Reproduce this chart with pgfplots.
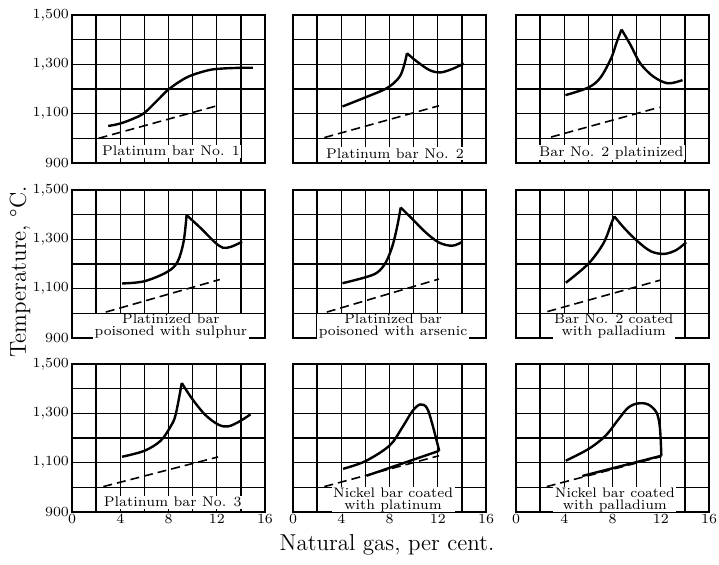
\documentclass[border=0pt]{standalone}
\usepackage{pgfplots}
\pgfplotsset{compat=1.18}
\begin{document}
\begin{tikzpicture}
\useasboundingbox (0pt,0pt) rectangle (359.5pt,-282.5pt);
\pgfplotsset{
  panel/.style={
    width=96.5pt, height=74pt, scale only axis,
    anchor=south west,
    xmin=0, xmax=16, ymin=900, ymax=1500,
    xtick={0,2,4,6,8,10,12,14,16}, ytick={900,1000,1100,1200,1300,1400,1500},
    xticklabels={}, yticklabels={},
    grid=major, major grid style={black, line width=0.72pt},
    axis line style={line width=0.95pt},
    tick style={draw=none},
    ticklabel style={font=\fontsize{7}{7}\selectfont},
    xticklabel style={yshift=2.5pt},
    yticklabel style={xshift=2pt},
    clip=false,
  },
  xlab/.style={xticklabels={0,,4,,8,,12,,16}},
  ylab/.style={yticklabels={900,,{1,100},,{1,300},,{1,500}}},
  curve/.style={black, line width=1.2pt, smooth, tension=0.55, no marks},
  theory/.style={black, line width=0.8pt, dash pattern=on 4.5pt off 2.5pt, no marks},
}
\tikzset{
  lbl/.style={fill=white, inner sep=0.8pt, align=center, font=\fontsize{7}{6}\selectfont},
  lbltwo/.style={fill=white, inner xsep=0.8pt, inner ysep=0.2pt, align=center, font=\fontsize{6.9}{5.9}\selectfont},
}

% row 1
\begin{axis}[panel, ylab, at={(36pt,-81.5pt)}]
  \addplot[curve] coordinates {(3,1050)(4,1060)(5.1,1080)(6,1103)(7.1,1155)(8.1,1202)(9.6,1249)(11.3,1276)(12.5,1283)(14.1,1286)(15,1286)};
  \addplot[theory] coordinates {(2.2,1000)(12.1,1133)};
  \node[lbl] at (axis cs:8.2,948) {Platinum bar No. 1};
\end{axis}
\begin{axis}[panel, at={(146.5pt,-81.5pt)}]
  \addplot[curve] coordinates {(4.1,1129)(6,1166)(7.8,1204)(8.8,1247)(9.2,1294)(9.45,1345)};
  \addplot[curve] coordinates {(9.45,1345)(10.2,1314)(11.3,1277)(12.2,1267)(13.2,1281)(14.15,1303)};
  \addplot[theory] coordinates {(2.6,1003)(12.1,1132)};
  \node[lbl] at (axis cs:8.45,937) {Platinum bar No. 2};
\end{axis}
\begin{axis}[panel, at={(258pt,-81.5pt)}]
  \addplot[curve] coordinates {(4.1,1175)(6,1206)(7,1246)(7.9,1326)(8.35,1390)(8.75,1441)};
  \addplot[curve] coordinates {(8.75,1441)(9.5,1378)(10.3,1304)(11.4,1250)(12.6,1223)(13.8,1236)};
  \addplot[theory] coordinates {(2.9,1005)(11.9,1126)};
  \node[lbl] at (axis cs:7.9,942) {Bar No. 2 platinized};
\end{axis}

% row 2
\begin{axis}[panel, ylab, at={(36pt,-169pt)}]
  \addplot[curve] coordinates {(4.15,1121)(6,1130)(7.9,1168)(8.75,1209)(9.25,1290)(9.5,1398)};
  \addplot[curve] coordinates {(9.5,1398)(10.7,1344)(11.8,1290)(12.5,1266)(13.2,1270)(14.1,1290)};
  \addplot[theory] coordinates {(2.8,1005)(12.25,1137)};
  \node[lbltwo] at (axis cs:8.2,947) {Platinized bar\\poisoned with sulphur};
\end{axis}
\begin{axis}[panel, at={(146.5pt,-169pt)}]
  \addplot[curve] coordinates {(4.1,1122)(6,1146)(7,1166)(7.7,1207)(8.25,1274)(8.65,1355)(8.93,1429)};
  \addplot[curve] coordinates {(8.93,1429)(9.9,1382)(11,1328)(12.1,1287)(13.2,1274)(14.05,1290)};
  \addplot[theory] coordinates {(2.8,1005)(12.1,1139)};
  \node[lbltwo] at (axis cs:8.3,947) {Platinized bar\\poisoned with arsenic};
\end{axis}
\begin{axis}[panel, at={(258pt,-169pt)}]
  \addplot[curve] coordinates {(4.13,1124)(6,1201)(7.25,1284)(7.9,1364)(8.15,1393)};
  \addplot[curve] coordinates {(8.15,1393)(9,1344)(10.1,1291)(11.2,1251)(12.3,1241)(13.3,1257)(14.1,1288)};
  \addplot[theory] coordinates {(2.6,1007)(12,1135)};
  \node[lbltwo] at (axis cs:8.1,948) {Bar No. 2 coated\\with palladium};
\end{axis}

% row 3
\begin{axis}[panel, xlab, ylab, at={(36pt,-256pt)}]
  \addplot[curve] coordinates {(4.15,1124)(6,1148)(7.35,1189)(8.2,1249)(8.6,1296)(9.1,1423)};
  \addplot[curve] coordinates {(9.1,1423)(9.9,1363)(11,1296)(12.1,1255)(12.95,1247)(13.95,1269)(14.8,1296)};
  \addplot[theory] coordinates {(2.6,1003)(12.1,1123)};
  \node[lbl] at (axis cs:8.35,940) {Platinum bar No. 3};
\end{axis}
\begin{axis}[panel, xlab, at={(146.5pt,-256pt)}]
  \addplot[curve] coordinates {(4.15,1075)(6,1106)(8,1169)(9.05,1242)(9.9,1309)(10.55,1336)(11.1,1322)(11.55,1256)(12.12,1148)};
  \addplot[curve] coordinates {(6.1,1047)(12.12,1148)};
  \addplot[theory] coordinates {(2.6,1003)(12.1,1128)};
  \node[lbltwo] at (axis cs:8.3,950) {Nickel bar coated\\with platinum};
\end{axis}
\begin{axis}[panel, xlab, at={(258pt,-256pt)}]
  \addplot[curve] coordinates {(4.13,1108)(6,1155)(7.4,1208)(8.5,1276)(9.3,1323)(10.1,1340)(10.95,1336)(11.65,1303)(11.93,1242)(12.05,1128)};
  \addplot[curve] coordinates {(5.5,1046)(12.05,1128)};
  \addplot[theory] coordinates {(2.55,1003)(12.05,1125)};
  \node[lbltwo] at (axis cs:8.2,950) {Nickel bar coated\\with palladium};
\end{axis}

\node[rotate=90, font=\fontsize{11.5}{13}\selectfont] at (10pt,-136pt) {Temperature, \textdegree C.};
\node[font=\fontsize{11.5}{13}\selectfont] at (193.5pt,-272.5pt) {Natural gas, per cent.};
\end{tikzpicture}
\end{document}
